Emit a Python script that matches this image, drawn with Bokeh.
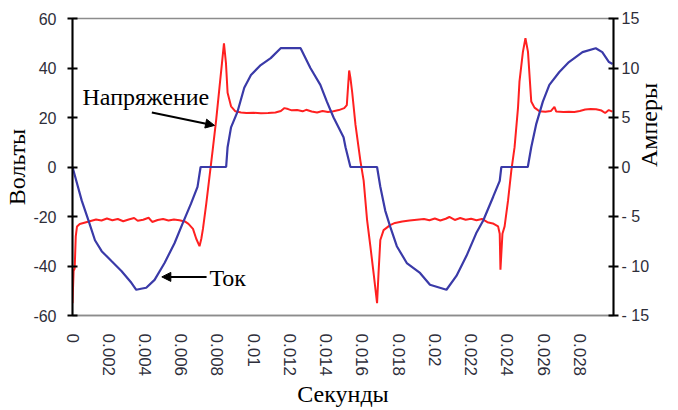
import numpy as np
from bokeh.plotting import figure
from bokeh.models import Range1d, LinearAxis, FixedTicker, Arrow, NormalHead, Label
from bokeh.embed import file_html
from bokeh.resources import INLINE

# ---- data (seconds, volts) ----
time_v = [0.0, 0.00006, 0.00012, 0.00018, 0.00025, 0.0004, 0.00075,
          0.0010, 0.0013, 0.0016, 0.0019, 0.0022, 0.0025, 0.0028, 0.0031, 0.0034,
          0.0036, 0.0039, 0.0042, 0.0044, 0.0047, 0.0050, 0.0053, 0.0056, 0.0059,
          0.0062, 0.0064, 0.00665, 0.00683, 0.00701, 0.00711, 0.0072, 0.00738,
          0.00756, 0.00774, 0.00793, 0.00811, 0.00825, 0.00836, 0.00847, 0.00856,
          0.00875, 0.00899, 0.0093, 0.0096, 0.0100, 0.0104, 0.0108, 0.0112, 0.0115,
          0.0117, 0.0119, 0.0121, 0.0124, 0.0127, 0.0129, 0.0132, 0.0135, 0.0138,
          0.0141, 0.0144, 0.0147, 0.0150, 0.01514, 0.01527, 0.01534, 0.01544,
          0.01562, 0.01589, 0.01607, 0.01626, 0.01644, 0.01662, 0.01681, 0.01689,
          0.01699, 0.01717, 0.01753, 0.0178, 0.0182, 0.0186, 0.0190, 0.0194,
          0.0197, 0.0200, 0.0203, 0.0206, 0.0208, 0.0211, 0.0214, 0.0217, 0.0220,
          0.0223, 0.0226, 0.0229, 0.0232, 0.02349, 0.02358, 0.02362, 0.02373,
          0.02385, 0.02404, 0.02422, 0.0244, 0.02459, 0.02467, 0.02486, 0.0250,
          0.02514, 0.02532, 0.0255, 0.02577, 0.0261, 0.0264, 0.0266, 0.0267,
          0.0271, 0.0274, 0.0277, 0.0280, 0.0283, 0.0286, 0.0289, 0.0292, 0.0294,
          0.0296, 0.0298]
volts = [-55, -42, -41, -28, -24, -23, -22.3,
         -21.8, -21.2, -21.6, -20.8, -21.5, -21.0, -21.9, -21.2, -20.6,
         -21.7, -21.3, -20.5, -22.2, -21.4, -21.0, -21.6, -21.2, -21.5,
         -22.0, -23.0, -25, -29, -32, -29, -25, -15,
         -4, 7, 19, 32, 42, 50, 42, 30,
         24.5, 22.5, 22.0, 21.8, 21.9, 21.7, 21.8, 22.0, 22.6,
         23.8, 23.4, 22.9, 23.0, 22.5, 23.1, 22.4, 22.0, 22.6,
         22.2, 22.5, 23.0, 23.8, 25, 39, 36, 30,
         17, 2.5, -5.5, -21.5, -32, -43, -55, -43,
         -29.5, -25.5, -23.5, -22.6, -22.0, -21.6, -21.3, -21.0,
         -21.5, -20.8, -21.6, -20.9, -20.2, -21.4, -20.6, -21.3, -20.9,
         -21.5, -21.0, -22.3, -22.8, -24, -27, -41.5, -27,
         -24, -13.5, -1.5, 8, 24, 34.5, 46.5, 52,
         46.5, 26.5, 24, 22.5, 22.3, 22.6, 24.3, 22.4,
         22.2, 22.3, 22.2, 22.6, 23.2, 23.4, 23.3, 22.8, 21.8,
         23.0, 22.4]

# ---- data (seconds, amperes) ----
time_i = [0.0, 0.00051, 0.00088, 0.00124, 0.00161, 0.00215, 0.0027, 0.00325,
          0.00352, 0.00378, 0.00407, 0.00453, 0.00508, 0.00563, 0.00608, 0.00654,
          0.0069, 0.00707, 0.00848, 0.00856, 0.00875, 0.00911, 0.00948, 0.00985,
          0.01039, 0.01094, 0.01149, 0.01204, 0.01259, 0.01313, 0.01368, 0.01404,
          0.01441, 0.01496, 0.01507, 0.01534, 0.01681, 0.01699, 0.01726, 0.01753,
          0.0179, 0.01845, 0.01918, 0.01973, 0.02064, 0.02119, 0.02174, 0.02228,
          0.02267, 0.02322, 0.02358, 0.02367, 0.02513, 0.02532, 0.02559, 0.02596,
          0.02632, 0.02687, 0.0274, 0.02815, 0.02888, 0.02924, 0.02961, 0.02981]
amps = [0, -3.4, -5.4, -7.4, -8.5, -9.5, -10.5, -11.7,
        -12.4, -12.3, -12.2, -11.4, -9.7, -7.7, -5.7, -3.7,
        -2.0, 0, 0, 2.0, 4.0, 5.6, 8.0, 9.3,
        10.3, 11.0, 12.0, 12.0, 12.0, 10.0, 8.3, 6.6,
        5.0, 3.0, 2.0, 0, 0, -2.0, -4.4, -6.0,
        -8.0, -9.7, -10.7, -11.9, -12.4, -11.0, -9.0, -6.7,
        -5.4, -3.0, -1.4, 0, 0, 2.0, 4.3, 6.6,
        8.3, 9.6, 10.6, 11.6, 12.0, 11.6, 10.6, 10.4]

x_ticks = [0, 0.002, 0.004, 0.006, 0.008, 0.01, 0.012, 0.014, 0.016, 0.018,
           0.02, 0.022, 0.024, 0.026, 0.028]
x_tick_labels = ["0", "0.002", "0.004", "0.006", "0.008", "0.01", "0.012", "0.014",
                 "0.016", "0.018", "0.02", "0.022", "0.024", "0.026", "0.028"]
v_ticks = [-60, -40, -20, 0, 20, 40, 60]
v_tick_labels = ["-60", "-40", "-20", "0", "20", "40", "60"]
i_ticks = [-15, -10, -5, 0, 5, 10, 15]
i_tick_labels = ["- 15", "- 10", "- 5", "0", "5", "10", "15"]

SERIF = "Liberation Serif"
SANS = "Liberation Sans"
TICK_COLOR = "#2e2e3a"
TITLE_SIZE = "24px"

p = figure(width=678, height=410, output_backend="svg", toolbar_location=None,
           x_range=Range1d(0, 0.02986), y_range=Range1d(-60, 60),
           min_border_left=72, min_border_right=61, min_border_top=18,
           min_border_bottom=92)
p.extra_y_ranges = {"amps": Range1d(-15, 15)}
p.xgrid.visible = False
p.ygrid.visible = False
p.outline_line_color = "#8c8c8c"
p.outline_line_width = 1.5
p.background_fill_color = "white"
p.border_fill_color = "white"

p.line(time_v, volts, line_color="#ff2020", line_width=2)
p.line(time_i, amps, line_color="#3a3aa8", line_width=2.2, y_range_name="amps")

# x axis
xa = p.xaxis[0]
xa.ticker = FixedTicker(ticks=x_ticks)
xa.major_label_overrides = {t: s for t, s in zip(x_ticks, x_tick_labels)}
xa.major_label_orientation = "vertical"
xa.major_tick_line_color = None
xa.minor_tick_line_color = None
xa.axis_line_color = "#8c8c8c"
xa.axis_line_width = 1.5
xa.major_label_text_font = SANS
xa.major_label_text_font_size = "17px"
xa.major_label_text_color = TICK_COLOR
xa.major_label_standoff = 12
xa.axis_label = "Секунды"
xa.axis_label_text_font = SERIF
xa.axis_label_text_font_size = TITLE_SIZE
xa.axis_label_text_font_style = "normal"
xa.axis_label_text_color = "black"
xa.axis_label_standoff = 2

# left axis
ya = p.yaxis[0]
ya.ticker = FixedTicker(ticks=v_ticks)
ya.major_label_overrides = {t: s for t, s in zip(v_ticks, v_tick_labels)}
ya.minor_tick_line_color = None
ya.major_tick_in = 5
ya.major_tick_out = 5
ya.major_tick_line_width = 2
ya.axis_line_width = 2
ya.axis_line_color = "black"
ya.major_tick_line_color = "black"
ya.major_label_text_font = SANS
ya.major_label_text_font_size = "16px"
ya.major_label_text_color = TICK_COLOR
ya.major_label_standoff = 11
ya.axis_label = "Вольты"
ya.axis_label_text_font = SERIF
ya.axis_label_text_font_size = TITLE_SIZE
ya.axis_label_text_font_style = "normal"
ya.axis_label_text_color = "black"
ya.axis_label_standoff = 0

# right axis
ra = LinearAxis(y_range_name="amps", ticker=FixedTicker(ticks=i_ticks))
ra.major_label_overrides = {t: s for t, s in zip(i_ticks, i_tick_labels)}
ra.minor_tick_line_color = None
ra.major_tick_in = 5
ra.major_tick_out = 5
ra.major_tick_line_width = 2
ra.axis_line_width = 2
ra.axis_line_color = "black"
ra.major_tick_line_color = "black"
ra.major_label_text_font = SANS
ra.major_label_text_font_size = "16px"
ra.major_label_text_color = TICK_COLOR
ra.major_label_standoff = 3
ra.axis_label = "Амперы"
ra.axis_label_text_font = SERIF
ra.axis_label_text_font_size = TITLE_SIZE
ra.axis_label_text_font_style = "normal"
ra.axis_label_text_color = "black"
ra.axis_label_standoff = -3
if "axis_label_orientation" in ra.properties():
    ra.axis_label_orientation = np.pi / 2
p.add_layout(ra, "right")

# annotations
p.add_layout(Label(x=0.00055, y=28.4, text="Напряжение", text_font=SERIF,
                   text_font_size=TITLE_SIZE, text_baseline="middle", text_color="black"))
p.add_layout(Arrow(end=NormalHead(size=9, fill_color="black", line_color="black"),
                   x_start=0.00438, y_start=22.0, x_end=0.00784, y_end=16.8,
                   line_color="black", line_width=2))
p.add_layout(Label(x=0.00756, y=-44.8, text="Ток", text_font=SERIF,
                   text_font_size=TITLE_SIZE, text_baseline="middle", text_color="black"))
p.add_layout(Arrow(end=NormalHead(size=9, fill_color="black", line_color="black"),
                   x_start=0.0074, y_start=-44.4, x_end=0.00493, y_end=-44.4,
                   line_color="black", line_width=2))

open("out.html", "w").write(file_html(p, INLINE))
